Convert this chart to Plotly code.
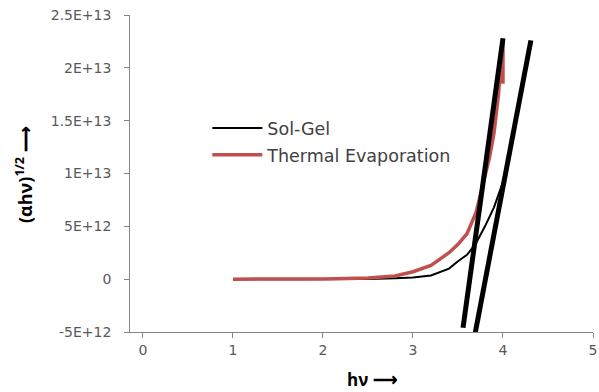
import plotly.graph_objects as go

# Sol-Gel curve
solgel_x = [1.0, 1.5, 2.0, 2.5, 2.8, 3.0, 3.2, 3.4, 3.5, 3.6, 3.7, 3.8, 3.9, 4.0, 4.1, 4.2, 4.3]
solgel_y = [0, 0, 0, 0.02e12, 0.08e12, 0.15e12, 0.35e12, 1.0e12, 1.7e12, 2.3e12, 3.4e12,
            5.0e12, 6.8e12, 9.2e12, 13.2e12, 17.7e12, 22.4e12]

# Thermal Evaporation curve
thermal_x = [1.0, 1.5, 2.0, 2.5, 2.8, 3.0, 3.2, 3.4, 3.5, 3.6, 3.7, 3.75, 3.8, 3.85, 3.9, 3.95, 4.0, 4.0]
thermal_y = [0, 0, 0.02e12, 0.1e12, 0.3e12, 0.7e12, 1.3e12, 2.5e12, 3.3e12, 4.3e12, 6.3e12,
             8.0e12, 9.8e12, 11.5e12, 13.8e12, 17.5e12, 22.7e12, 18.5e12]

# Linear fit (tangent) lines
fit_thermal_x = [3.556, 4.0]
fit_thermal_y = [-4.6e12, 22.8e12]
fit_solgel_x = [3.68, 4.31]
fit_solgel_y = [-5.6e12, 22.6e12]

# Axis ticks
x_ticks = [0, 1, 2, 3, 4, 5]
y_tick_vals = [-5e12, 0, 5e12, 1e13, 1.5e13, 2e13, 2.5e13]
y_tick_labels = ["-5E+12", "0", "5E+12", "1E+13", "1.5E+13", "2E+13", "2.5E+13"]

FONT = "DejaVu Sans"
TITLE_FONT = "Open Sans"
LABEL_GAP = "\u2002\u2009"  # extra gap between y tick labels and the axis

fig = go.Figure()

fig.add_trace(go.Scatter(x=solgel_x, y=solgel_y, mode="lines", name="Sol-Gel",
                         line=dict(color="black", width=2), legendgroup="a"))
fig.add_trace(go.Scatter(x=thermal_x, y=thermal_y, mode="lines", name="Thermal Evaporation",
                         line=dict(color="#c0504d", width=3.5), legendgroup="b"))
fig.add_trace(go.Scatter(x=fit_thermal_x, y=fit_thermal_y, mode="lines", showlegend=False,
                         line=dict(color="black", width=5)))
fig.add_trace(go.Scatter(x=fit_solgel_x, y=fit_solgel_y, mode="lines", showlegend=False,
                         line=dict(color="black", width=5)))

axis_common = dict(showgrid=False, zeroline=False, showline=True, linecolor="#868686",
                   linewidth=1, ticks="outside", ticklen=5, tickcolor="#868686",
                   automargin=False,
                   tickfont=dict(family=FONT, size=14, color="#595959"))

fig.update_xaxes(range=[-0.144, 5], tickvals=x_ticks, **axis_common)
fig.update_yaxes(range=[-5e12, 2.5e13], tickvals=y_tick_vals,
                 ticktext=[t + LABEL_GAP for t in y_tick_labels], **axis_common)

fig.update_layout(
    width=599, height=392,
    margin=dict(l=130, r=6, t=15, b=60),
    paper_bgcolor="white", plot_bgcolor="white",
    showlegend=True,
    legend=dict(x=0.167, y=0.70, xanchor="left", yanchor="top", bgcolor="rgba(0,0,0,0)",
                font=dict(family=FONT, size=17.5, color="#404040"), tracegroupgap=1,
                itemwidth=50),
    annotations=[
        dict(text="<b>(αhν)<sup>1/2</sup> ⟶</b>", xref="paper", yref="paper",
             x=(24 - 130) / 463, y=(332 - 175) / 317, textangle=-90, showarrow=False,
             font=dict(family=TITLE_FONT, size=18, color="black"), xanchor="center", yanchor="middle"),
        dict(text="<b>hν ⟶</b>", xref="paper", yref="paper",
             x=(372 - 130) / 463, y=(332 - 379) / 317, showarrow=False,
             font=dict(family=TITLE_FONT, size=17, color="black"), xanchor="center", yanchor="middle"),
    ],
)

# remove the default page margin so the figure sits at the window's top-left corner
fig.write_html("out.html", config={"displayModeBar": False},
               post_script="document.body.style.margin='0';")
